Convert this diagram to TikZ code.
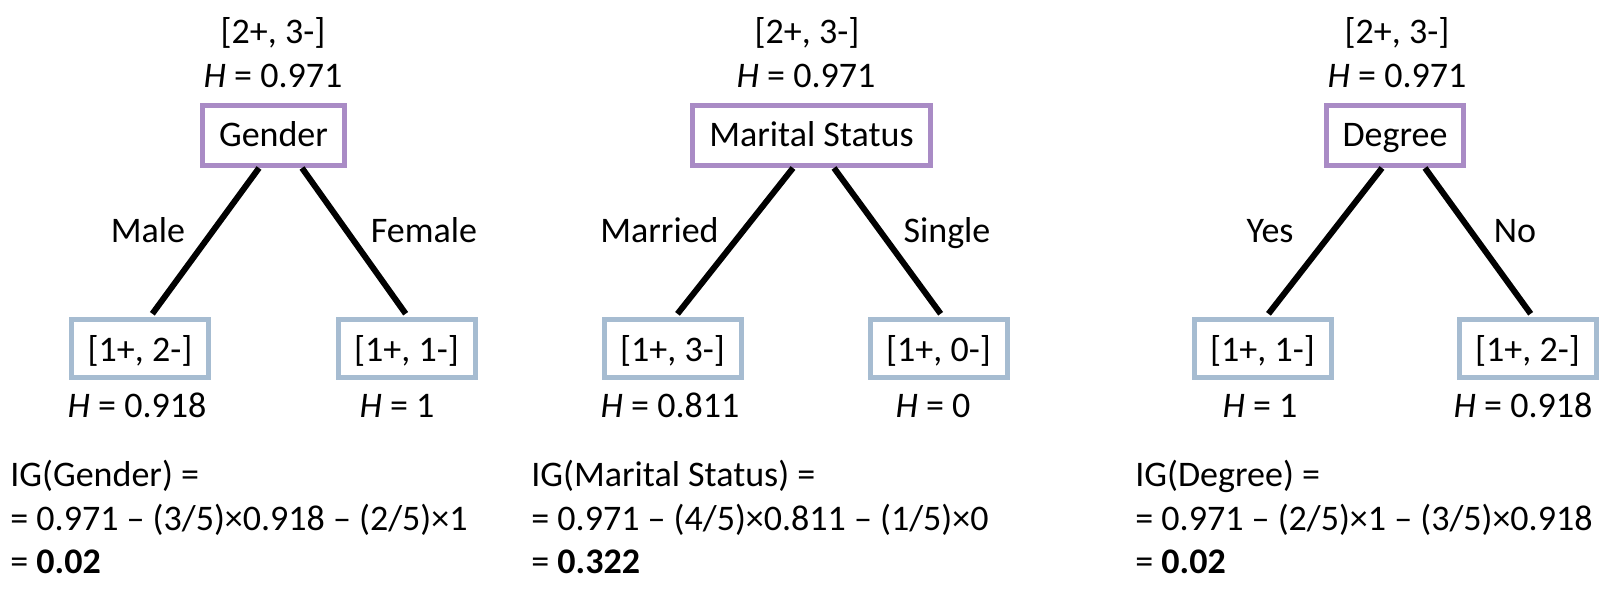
\documentclass[tikz,border=0pt]{standalone}
\usepackage{fontspec}
\setmainfont{Carlito}
\usetikzlibrary{calc}
\definecolor{rootc}{HTML}{A98BC5}
\definecolor{leafc}{HTML}{A6BCD1}
\begin{document}
\begin{tikzpicture}[x=0.5pt,y=-0.5pt,
  every node/.style={font=\fontsize{18}{21}\selectfont, inner sep=0pt},
  rootbox/.style={draw=rootc, line width=2.5pt, minimum height=30pt, text height=11.5pt, text depth=0.5pt},
  leafbox/.style={draw=leafc, line width=2.5pt, minimum width=68.5pt, minimum height=29pt, text height=13.5pt, text depth=0.5pt},
  txt/.style={anchor=base},
  txtl/.style={anchor=base west},
  branch/.style={line width=3pt, shorten >=2pt}]
\useasboundingbox (0,0) rectangle (1624,589);

% Tree 1
\node[rootbox, minimum width=71pt] (r1) at (273.5,135.5) {Gender};
\node[txt] (r1c) at (273,43) {[2+, 3-]};
\node[txt] (r1h) at (273,87) {\textit{H} = 0.971};
\node[leafbox] (l1a) at (140,348.5) {[1+, 2-]};
\node[leafbox] (l1b) at (406.5,348.5) {[1+, 1-]};
\node[txt] (h1a) at (137,417) {\textit{H} = 0.918};
\node[txt] (h1b) at (397,417) {\textit{H} = 1};
\node[txt] (e1a) at (148,242) {Male};
\node[txt] (e1b) at (424,242) {Female};
\draw[branch] ([xshift=-7.25pt]r1.south) -- ([xshift=5pt]l1a.north);
\draw[branch] ([xshift=14.25pt]r1.south) -- ([xshift=0.75pt]l1b.north);
\node[txtl] (ig1a) at (10,486) {IG(Gender) =};
\node[txtl] (ig1b) at (10,530) {= 0.971 – (3/5)×0.918 – (2/5)×1};
\node[txtl] (ig1c) at (10,573) {= \textbf{0.02}};

% Tree 2
\node[rootbox, minimum width=119pt] (r2) at (811.5,135.5) {Marital Status};
\node[txt] (r2c) at (807,43) {[2+, 3-]};
\node[txt] (r2h) at (806,87) {\textit{H} = 0.971};
\node[leafbox] (l2a) at (672.5,348.5) {[1+, 3-]};
\node[leafbox] (l2b) at (938.5,348.5) {[1+, 0-]};
\node[txt] (h2a) at (670,417) {\textit{H} = 0.811};
\node[txt] (h2b) at (933,417) {\textit{H} = 0};
\node[txt] (e2a) at (659.5,242) {Married};
\node[txt] (e2b) at (947,242) {Single};
\draw[branch] ([xshift=-9.25pt]r2.south) -- ([xshift=1.25pt]l2a.north);
\draw[branch] ([xshift=11.25pt]r2.south) -- ([xshift=2.25pt]l2b.north);
\node[txtl] (ig2a) at (531,486) {IG(Marital Status) =};
\node[txtl] (ig2b) at (531,530) {= 0.971 – (4/5)×0.811 – (1/5)×0};
\node[txtl] (ig2c) at (531,573) {= \textbf{0.322}};

% Tree 3
\node[rootbox, minimum width=68.5pt] (r3) at (1395,135.5) {Degree};
\node[txt] (r3c) at (1397,43) {[2+, 3-]};
\node[txt] (r3h) at (1397,87) {\textit{H} = 0.971};
\node[leafbox] (l3a) at (1262.5,348.5) {[1+, 1-]};
\node[leafbox] (l3b) at (1527.5,348.5) {[1+, 2-]};
\node[txt] (h3a) at (1260,417) {\textit{H} = 1};
\node[txt] (h3b) at (1523,417) {\textit{H} = 0.918};
\node[txt] (e3a) at (1270,242) {Yes};
\node[txt] (e3b) at (1515,242) {No};
\draw[branch] ([xshift=-6.5pt]r3.south) -- ([xshift=1.75pt]l3a.north);
\draw[branch] ([xshift=15pt]r3.south) -- ([xshift=2.75pt]l3b.north);
\node[txtl] (ig3a) at (1135,486) {IG(Degree) =};
\node[txtl] (ig3b) at (1135,530) {= 0.971 – (2/5)×1 – (3/5)×0.918};
\node[txtl] (ig3c) at (1135,573) {= \textbf{0.02}};
\end{tikzpicture}
\end{document}
